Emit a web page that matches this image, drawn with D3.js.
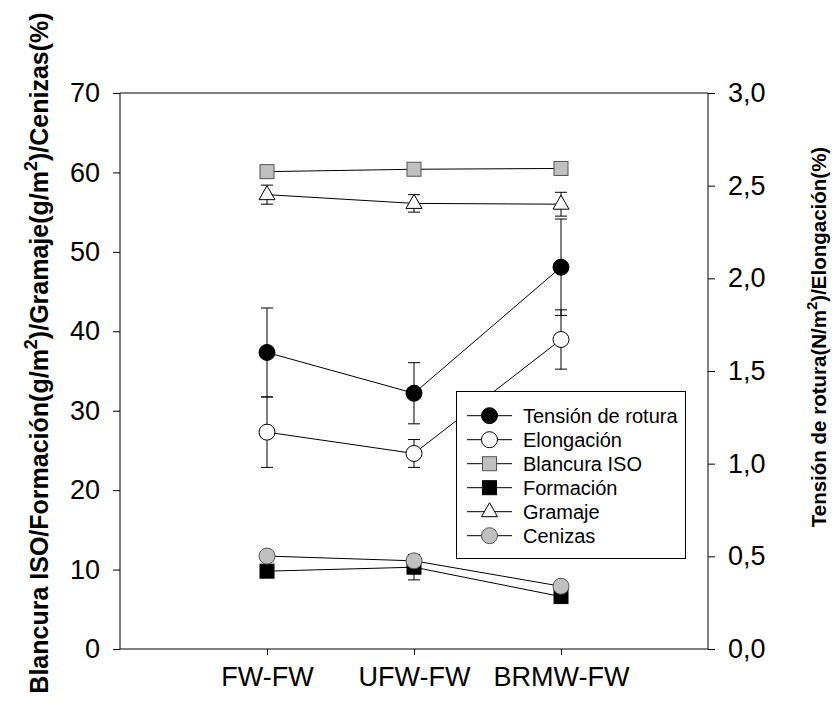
<!DOCTYPE html>
<html>
<head>
<meta charset="utf-8">
<script src="https://cdn.jsdelivr.net/npm/d3@7"></script>
<style>
  body { margin: 0; background: #fff; }
  svg text { font-family: "Liberation Sans", Arial, sans-serif; }
</style>
</head>
<body>
<svg id="svg" width="832" height="720"></svg>
<script>
// categorias del eje x
var categories = ['FW-FW', 'UFW-FW', 'BRMW-FW']

// eje derecho
var tension = [1.60, 1.38, 2.06]
var tensionErr = [0.24, 0.165, 0.26]
var elongacion = [1.17, 1.055, 1.67]
var elongacionErr = [0.19, 0.075, 0.16]

// eje izquierdo
var blancura = [60.1, 60.4, 60.5]
var blancuraErr = [0.3, 0.3, 0.3]
var formacion = [9.8, 10.3, 6.6]
var formacionErr = [0.7, 1.6, 0.3]
var gramaje = [57.2, 56.1, 56.0]
var gramajeErr = [1.2, 1.1, 1.5]
var cenizas = [11.7, 11.1, 7.9]
var cenizasErr = [0.3, 0.3, 0.3]

var leftTicks = [0, 10, 20, 30, 40, 50, 60, 70]
var rightTicks = [0, 0.5, 1, 1.5, 2, 2.5, 3]

var svg = d3.select('#svg')

var x = d3.scaleLinear().domain([0, 4]).range([120, 708])
var yL = d3.scaleLinear().domain([0, 70]).range([649, 93])
var yR = d3.scaleLinear().domain([0, 3]).range([649, 93])

var GRAY = '#c0c0c0'

var series = [
    { name: 'Tensión de rotura', v: tension, e: tensionErr, y: yR, shape: 'circle', fill: '#000' },
    { name: 'Elongación', v: elongacion, e: elongacionErr, y: yR, shape: 'circle', fill: '#fff' },
    { name: 'Blancura ISO', v: blancura, e: blancuraErr, y: yL, shape: 'square', fill: GRAY },
    { name: 'Formación', v: formacion, e: formacionErr, y: yL, shape: 'square', fill: '#000' },
    { name: 'Gramaje', v: gramaje, e: gramajeErr, y: yL, shape: 'triangle', fill: '#fff' },
    { name: 'Cenizas', v: cenizas, e: cenizasErr, y: yL, shape: 'circle', fill: GRAY }
]

function drawMarker(g, shape, fill, cx, cy) {
    var stroke = fill == GRAY ? '#555' : '#000'
    if (shape == 'circle') {
        g.append('circle').attr('cx', cx).attr('cy', cy).attr('r', 8)
            .attr('fill', fill).attr('stroke', stroke).attr('stroke-width', 1)
    } else if (shape == 'square') {
        g.append('rect').attr('x', cx - 7).attr('y', cy - 7).attr('width', 14).attr('height', 14)
            .attr('fill', fill).attr('stroke', stroke).attr('stroke-width', 1)
    } else {
        g.append('path')
            .attr('d', 'M' + cx + ',' + (cy - 9) + 'L' + (cx + 8) + ',' + (cy + 5) + 'L' + (cx - 8) + ',' + (cy + 5) + 'Z')
            .attr('fill', fill).attr('stroke', stroke).attr('stroke-width', 1)
    }
}

// ejes
var axL = svg.append('g').attr('transform', 'translate(120,0)')
    .call(d3.axisLeft(yL).tickValues(leftTicks).tickSize(7).tickPadding(13))
var axR = svg.append('g').attr('transform', 'translate(708,0)')
    .call(d3.axisRight(yR).tickValues(rightTicks).tickSize(7).tickPadding(13)
        .tickFormat(function(d) { return d3.format('.1f')(d).replace('.', ',') }))
var axB = svg.append('g').attr('transform', 'translate(0,649)')
    .call(d3.axisBottom(x).tickValues([1, 2, 3]).tickSize(6).tickPadding(12)
        .tickFormat(function(d) { return categories[d - 1] }))

svg.append('line').attr('x1', 120).attr('x2', 708).attr('y1', 93).attr('y2', 93)
    .attr('stroke', '#000')

;[axL, axR, axB].forEach(function(a) {
    a.selectAll('.domain').attr('stroke', '#000')
    a.selectAll('text').attr('font-size', 27).attr('fill', '#000')
        .attr('font-family', '"Liberation Sans", Arial, sans-serif')
})
axL.select('.domain').attr('d', 'M0,93V649')
axR.select('.domain').attr('d', 'M0,93V649')
axB.select('.domain').attr('d', 'M120,0H708')

// series
var plot = svg.append('g')
series.forEach(function(s) {
    var g = plot.append('g')
    var line = d3.line()
        .x(function(d, i) { return x(i + 1) })
        .y(function(d) { return s.y(d) })
    g.append('path').attr('d', line(s.v)).attr('fill', 'none').attr('stroke', '#000').attr('stroke-width', 1)

    s.v.forEach(function(v, i) {
        var cx = x(i + 1)
        var y0 = s.y(v - s.e[i]), y1 = s.y(v + s.e[i])
        g.append('line').attr('x1', cx).attr('x2', cx).attr('y1', y0).attr('y2', y1).attr('stroke', '#000')
        g.append('line').attr('x1', cx - 6).attr('x2', cx + 6).attr('y1', y0).attr('y2', y0).attr('stroke', '#000')
        g.append('line').attr('x1', cx - 6).attr('x2', cx + 6).attr('y1', y1).attr('y2', y1).attr('stroke', '#000')
    })
    s.v.forEach(function(v, i) {
        drawMarker(g, s.shape, s.fill, x(i + 1), s.y(v))
    })
})

// leyenda
var legend = svg.append('g')
legend.append('rect').attr('x', 456.5).attr('y', 391.5).attr('width', 229).attr('height', 167)
    .attr('fill', '#fff').attr('stroke', '#000')
series.forEach(function(s, i) {
    var ly = 415.7 + i * 24
    legend.append('line').attr('x1', 467).attr('x2', 512).attr('y1', ly).attr('y2', ly).attr('stroke', '#000')
    drawMarker(legend, s.shape, s.fill, 489.5, ly)
    legend.append('text').attr('x', 523).attr('y', ly + 7.5).attr('font-size', 20).text(s.name)
})

// titulos de ejes
var tl = svg.append('text').attr('font-weight', 'bold').attr('font-size', 25)
    .attr('text-anchor', 'middle')
    .attr('transform', 'translate(48,353) rotate(-90)')
tl.append('tspan').text('Blancura ISO/Formación(g/m')
tl.append('tspan').attr('dy', -11).attr('font-size', 18).text('2')
tl.append('tspan').attr('dy', 11).text(')/Gramaje(g/m')
tl.append('tspan').attr('dy', -11).attr('font-size', 18).text('2')
tl.append('tspan').attr('dy', 11).text(')/Cenizas(%)')

var tr = svg.append('text').attr('font-weight', 'bold').attr('font-size', 20.5)
    .attr('text-anchor', 'middle')
    .attr('transform', 'translate(826,337) rotate(-90)')
tr.append('tspan').text('Tensión de rotura(N/m')
tr.append('tspan').attr('dy', -9).attr('font-size', 15).text('2')
tr.append('tspan').attr('dy', 9).text(')/Elongación(%)')
</script>
</body>
</html>
